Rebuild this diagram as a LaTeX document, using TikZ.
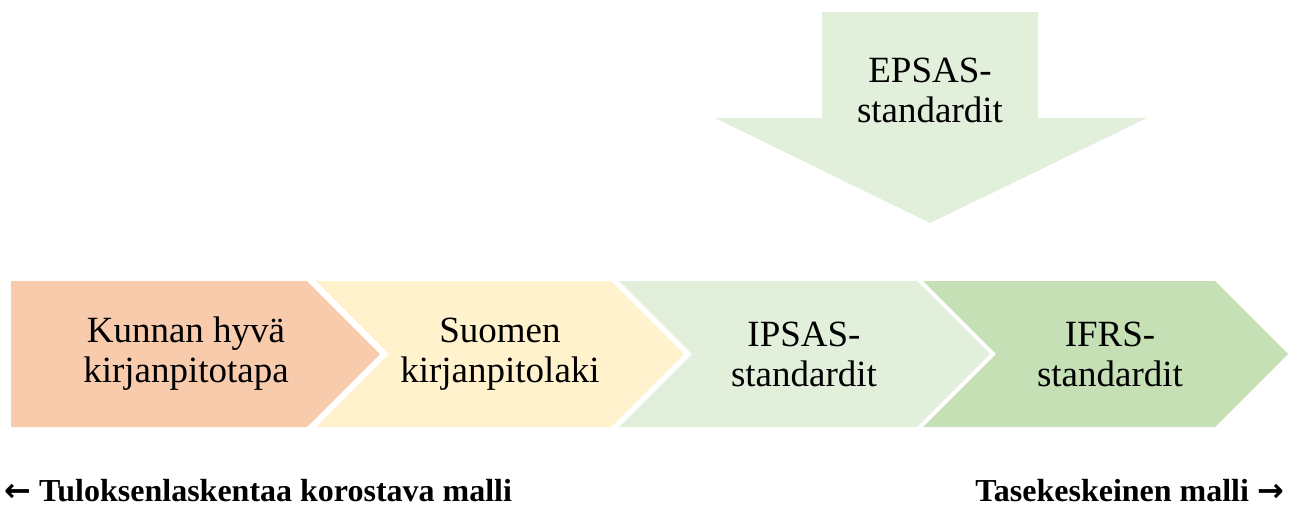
\documentclass[tikz,border=0pt]{standalone}
\usepackage{fontspec}
\setmainfont{Liberation Serif}
\newfontfamily\symfont{DejaVu Sans}
\begin{document}
\begin{tikzpicture}[x=1pt,y=-1pt,
  lbl/.style={align=center,font=\fontsize{37}{40}\selectfont,text=black,inner sep=0pt},
  foot/.style={font=\fontsize{32}{34}\selectfont\bfseries,text=black,inner sep=0pt}]
\definecolor{cA}{HTML}{F8CBAD}
\definecolor{cB}{HTML}{FFF2CC}
\definecolor{cC}{HTML}{E2EFDA}
\definecolor{cD}{HTML}{C5E0B4}
\useasboundingbox (0,0) rectangle (1289,509);
% chevrons
\fill[cA] (11,281) -- (307,281) -- (380,354) -- (307,427) -- (11,427) -- cycle;
\fill[cB] (316,281) -- (611,281) -- (684,354) -- (611,427) -- (316,427) -- (389,354) -- cycle;
\fill[cC] (619,281) -- (917,281) -- (990,354) -- (917,427) -- (619,427) -- (692,354) -- cycle;
\fill[cD] (923,281) -- (1215,281) -- (1288,354) -- (1215,427) -- (923,427) -- (996,354) -- cycle;
% down arrow
\fill[cC] (822,12) -- (1038,12) -- (1038,118) -- (1147,118) -- (930,223) -- (715,118) -- (822,118) -- cycle;
\node[lbl] (n1) at (186,354) {Kunnan hyvä\\kirjanpitotapa};
\node[lbl] (n2) at (500,354) {Suomen\\kirjanpitolaki};
\node[lbl] (n3) at (804,354) {IPSAS-\\standardit};
\node[lbl] (n4) at (1110,354) {IFRS-\\standardit};
\node[lbl] (n5) at (930,90) {EPSAS-\\standardit};
\node[foot,anchor=west] (f1) at (4,491) {{\symfont\bfseries ←} Tuloksenlaskentaa korostava malli};
\node[foot,anchor=east] (f2) at (1284,491) {Tasekeskeinen malli {\symfont\bfseries →}};
\end{tikzpicture}
\end{document}
